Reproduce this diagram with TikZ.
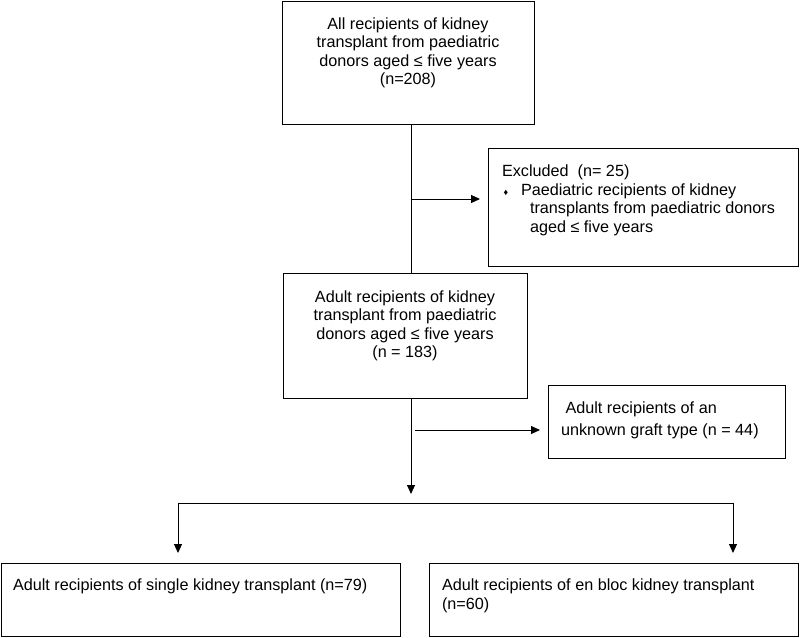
\documentclass[tikz,border=0pt]{standalone}
\usepackage{fontspec}
\setmainfont{Liberation Sans}
\usetikzlibrary{arrows.meta}
\begin{document}
\begin{tikzpicture}[x=1pt,y=1pt,
  boxst/.style={draw, line width=1pt, rectangle, inner sep=0pt, outer sep=0pt},
  txt/.style={inner sep=0pt, outer sep=0pt, font=\fontsize{16.2}{18.5}\selectfont},
  conn/.style={line width=1pt},
  arr/.style={conn, -{Triangle[length=9pt,width=8pt]}}]
\useasboundingbox (0,0) rectangle (800,-637);
% boxes
\node[boxst, minimum width=252pt, minimum height=123pt] (b1) at (408,-62.5) {};
\node[boxst, minimum width=310pt, minimum height=118pt] (ex) at (643,-207) {};
\node[boxst, minimum width=244pt, minimum height=125pt] (b2) at (405,-335.5) {};
\node[boxst, minimum width=237pt, minimum height=73pt] (un) at (666.5,-421.5) {};
\node[boxst, minimum width=399pt, minimum height=73pt] (bl) at (200.5,-599.5) {};
\node[boxst, minimum width=369pt, minimum height=73pt] (br) at (613.5,-599.5) {};
% texts
\node[txt, align=center] (t1) at (408,-53) {All recipients of kidney\\transplant from paediatric\\donors aged ≤ five years\\(n=208)};
\node[txt, align=left, anchor=north west] (t2) at (502,-165) {Excluded\ \ (n= 25)\\
\hspace*{1.5pt}\makebox[17.5pt][l]{\fontsize{9}{9}\selectfont ♦}Paediatric recipients of kidney\\
\hspace*{28pt}transplants from paediatric donors\\
\hspace*{28pt}aged ≤ five years};
\node[txt, align=center] (t3) at (405,-326) {Adult recipients of kidney\\transplant from paediatric\\donors aged ≤ five years\\(n = 183)};
\node[txt, align=left, anchor=north west, font=\fontsize{16.2}{22}\selectfont] (t4) at (561,-402) {\hspace*{4.5pt}Adult recipients of an\\unknown graft type (n = 44)};
\node[txt, align=left, anchor=north west] (t5) at (13,-579) {Adult recipients of single kidney transplant (n=79)};
\node[txt, align=left, anchor=north west, font=\fontsize{16.2}{19}\selectfont] (t6) at (442,-579) {Adult recipients of en bloc kidney transplant\\(n=60)};
% connector coordinates
\coordinate (s1) at (411,-199);
\coordinate (s2s) at (415,-430);
\coordinate (d2) at (411,-494);
\coordinate (hl) at (178,-503);
\coordinate (hr) at (733,-503);
% connectors
\draw[conn] (b1.south -| s1) -- (b2.north -| s1);
\draw[arr, shorten >=8pt] (s1) -- (ex.west |- s1);
\draw[arr] (b2.south -| d2) -- (d2);
\draw[arr, shorten >=8pt] (s2s) -- (un.west |- s2s);
\draw[conn] (hl) -- (hr);
\draw[arr, shorten >=10pt] (hl) -- (bl.north -| hl);
\draw[arr, shorten >=10pt] (hr) -- (br.north -| hr);
\end{tikzpicture}
\end{document}
